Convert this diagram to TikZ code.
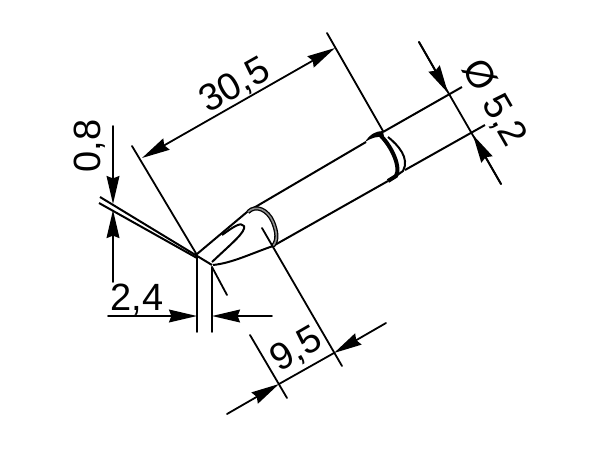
\documentclass[tikz,border=0pt]{standalone}
\usepackage{fontspec}
\setmainfont{Liberation Sans}
\usetikzlibrary{arrows.meta}
\tikzset{
	dimline/.style={line width=0.45mm, line cap=round},
	dimtip/.style={-{Stealth[length=7mm,width=3.2mm,inset=0.6mm]}},
	dimboth/.style={{Stealth[length=7mm,width=3.2mm,inset=0.6mm]}-{Stealth[length=7mm,width=3.2mm,inset=0.6mm]}},
	contour/.style={line width=0.5mm, line join=round},
	dimtext/.style={font=\fontsize{27}{27}\selectfont, inner sep=0pt}
}
\begin{document}
\begin{tikzpicture}[x=0.025cm, y=-0.025cm]
	\useasboundingbox (0, 0) rectangle (600, 450);
	
	%%%%% tip %%%%%
	\draw[contour] (100, 197) -- (212, 265);
	\draw[contour] (99, 203) -- (197, 258);
	\draw[contour] (197, 254) -- (247, 212) -- (257, 206) -- (366, 142);
	\draw[contour] (213, 265) .. controls (232, 263) and (250, 254) .. (273, 246) -- (388, 181);
	\draw[contour] (222, 235) .. controls (232, 228) and (241, 221) .. (244, 226) .. controls (246, 232) and (232, 243) .. (212, 262);
	\draw[line width=1.05mm] (248, 212) .. controls (256, 204) and (268, 210) .. (273, 222) .. controls (277, 232) and (278, 240) .. (273, 246);
	\draw[line width=0.4mm, black!45] (248, 212) .. controls (256, 204) and (268, 210) .. (273, 222) .. controls (277, 232) and (278, 240) .. (273, 246);
	
	%%%%% collar %%%%%
	\draw[contour] (383, 132) -- (462, 87);
	\draw[contour] (405, 170) -- (485, 125);
	\fill (365, 142) .. controls (370, 134) and (376, 131) .. (383, 131) -- (384, 137) .. controls (377, 136) and (371, 138) .. (365, 142);
	\draw[line width=1mm] (381, 136) .. controls (392, 147) and (401, 167) .. (396, 176) -- (388, 181);
	\draw[contour] (388, 137) .. controls (398, 145) and (410, 158) .. (403, 171) -- (396, 176);
	
	%%%%% 30,5 %%%%%
	\draw[dimline] (132, 146) -- (197, 255);
	\draw[dimline] (212, 267) -- (227, 295);
	\draw[dimline] (327, 33) -- (383, 131);
	\draw[dimline, dimboth] (142, 158) -- (335, 48);
	\node[dimtext, rotate=29.5] (lenlabel) at (235, 86) {30,5};
	
	%%%%% 0,8 %%%%%
	\draw[dimline, dimtip] (113, 126) -- (113, 204);
	\draw[dimline, dimtip] (113, 282) -- (113, 210);
	\node[dimtext, rotate=90] (thicklabel) at (90, 146) {0,8};
	
	%%%%% 2,4 %%%%%
	\draw[dimline] (197, 255) -- (197, 332);
	\draw[dimline] (212, 267) -- (212, 332);
	\draw[dimline, dimtip] (108, 316) -- (197, 316);
	\draw[dimline, dimtip] (272, 316) -- (212, 316);
	\node[dimtext] (widthlabel) at (137, 300) {2,4};
	
	%%%%% 9,5 %%%%%
	\draw[dimline] (250, 335) -- (287, 398);
	\draw[dimline] (262, 228) -- (342, 366);
	\draw[dimline, dimtip] (227, 414) -- (279, 384);
	\draw[dimline, dimtip] (386, 323) -- (334, 353);
	\draw[dimline] (279, 384) -- (334, 353);
	\node[dimtext, rotate=30] (bladelabel) at (297, 350) {9,5};
	
	%%%%% 5,2 %%%%%
	\draw[dimline] (419, 42) -- (501, 184);
	\draw[dimline, dimtip] (419, 42) -- (448, 93);
	\draw[dimline, dimtip] (501, 184) -- (473, 135);
	\node[dimtext, rotate=-60] (dialabel) at (494, 103) {Ø 5,2};
\end{tikzpicture}
\end{document}
